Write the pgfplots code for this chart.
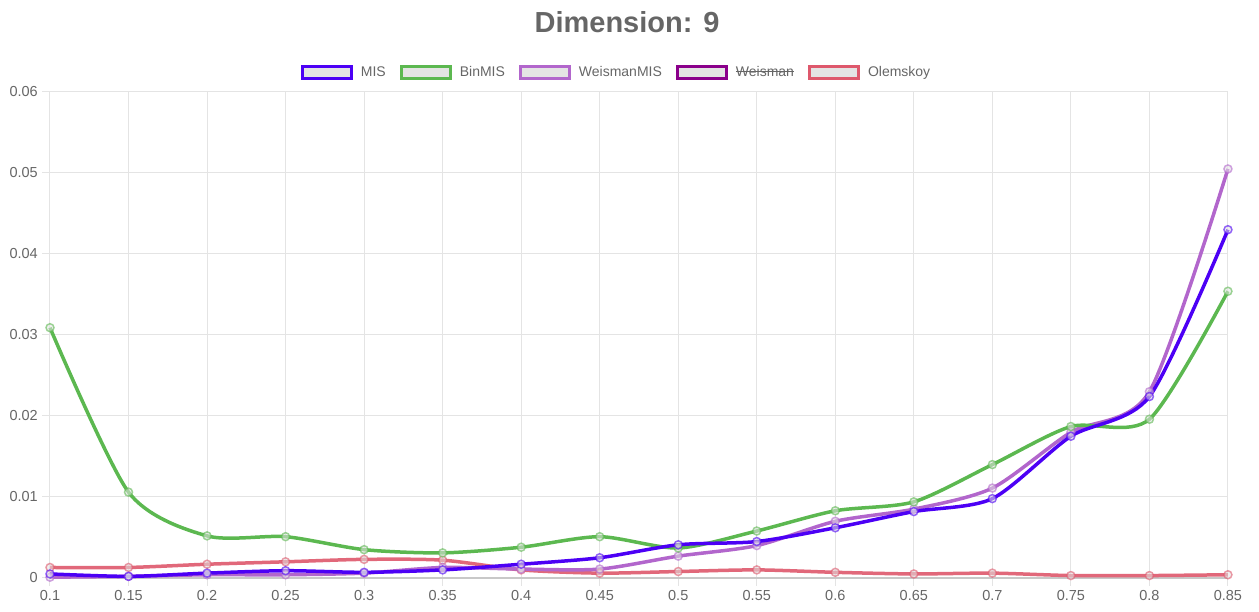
\documentclass[border=0pt]{standalone}
\usepackage{pgfplots}
\pgfplotsset{compat=1.18}
\usepackage{pgfplotstable}
\usepackage{fontspec}
\setmainfont{Liberation Sans}

\newsavebox\strikebox
\newcommand\strike[1]{\sbox\strikebox{#1}\rlap{\rule[0.32em]{\wd\strikebox}{1pt}}\usebox\strikebox}

\definecolor{txtgray}{RGB}{102,102,102}
\definecolor{gridgray}{RGB}{228,228,228}
\definecolor{zerogray}{RGB}{200,200,200}
\definecolor{boxfill}{RGB}{228,228,228}
\definecolor{cMIS}{RGB}{76,0,245}
\definecolor{cBin}{RGB}{92,184,80}
\definecolor{cWMIS}{RGB}{178,102,204}
\definecolor{cWeis}{RGB}{139,0,139}
\definecolor{cOle}{RGB}{222,88,108}

% error rate per threshold for each method
\pgfplotstableread{
x     mis    bin    wmis   ole
0.10  0.0005 0.0309 0.0001 0.0013
0.15  0.0002 0.0106 0.0002 0.0013
0.20  0.0006 0.0052 0.0004 0.0017
0.25  0.0009 0.0051 0.0004 0.0020
0.30  0.0007 0.0035 0.0006 0.0023
0.35  0.0010 0.0031 0.0013 0.0022
0.40  0.0017 0.0038 0.0011 0.0010
0.45  0.0025 0.0051 0.0011 0.0006
0.50  0.0041 0.0037 0.0027 0.0008
0.55  0.0045 0.0058 0.0040 0.0010
0.60  0.0062 0.0083 0.0070 0.0007
0.65  0.0082 0.0094 0.0085 0.0005
0.70  0.0098 0.0140 0.0111 0.0006
0.75  0.0175 0.0187 0.0180 0.0003
0.80  0.0224 0.0196 0.0230 0.0003
0.85  0.0430 0.0354 0.0505 0.0004
}\dimdata

\begin{document}
\begin{tikzpicture}
\path[use as bounding box] (-50pt,-34pt) rectangle (1209pt,578pt);
\begin{axis}[
  scale only axis,
  width=1178pt, height=486pt,
  xmin=0.1, xmax=0.85, ymin=0, ymax=0.06,
  scaled ticks=false,
  xtick={0.1,0.15,...,0.85},
  ytick={0,0.01,...,0.06},
  xticklabels={0.1,0.15,0.2,0.25,0.3,0.35,0.4,0.45,0.5,0.55,0.6,0.65,0.7,0.75,0.8,0.85},
  yticklabels={0,0.01,0.02,0.03,0.04,0.05,0.06},
  grid=major,
  major grid style={draw=gridgray, line width=1pt},
  axis line style={draw=gridgray, line width=1pt},
  tick align=outside,
  major tick length=8pt,
  tick style={draw=gridgray, line width=1pt},
  xtick pos=bottom, ytick pos=left,
  tick label style={font=\fontsize{14.5}{17}\selectfont, text=txtgray},
  yticklabel style={anchor=east, inner sep=0pt, xshift=-4pt},
  xticklabel style={anchor=north, inner sep=0pt, yshift=-4pt},
  clip=false,
  legend columns=5,
  legend style={at={(0.481,1.041)}, anchor=center, draw=none, fill=none,
    font=\fontsize{14}{17}\selectfont, text=txtgray,
    /tikz/every odd column/.append style={column sep=6pt},
    /tikz/every even column/.append style={column sep=12pt}},
  legend image code/.code={
    \draw[#1, line width=3pt, fill=boxfill] (0pt,-6pt) rectangle (49pt,6pt);},
  every axis plot/.append style={line width=3.5pt, smooth, tension=0.45},
  mk/.style={mark=*, mark size=4pt,
    mark options={draw=#1, fill=boxfill, line width=1.5pt, fill opacity=0.55, draw opacity=0.6}},
]
% legend entries, in the order the methods are listed
\addlegendimage{draw=cMIS}\addlegendentry{MIS}
\addlegendimage{draw=cBin}\addlegendentry{BinMIS}
\addlegendimage{draw=cWMIS}\addlegendentry{WeismanMIS}
\addlegendimage{draw=cWeis}\addlegendentry{\strike{Weisman}}
\addlegendimage{draw=cOle}\addlegendentry{Olemskoy}

% zero baseline
\draw[zerogray, line width=2pt] (axis cs:0.1,0) -- (axis cs:0.85,0);

\addplot[forget plot, draw=cOle, draw opacity=0.9, mk=cOle] table[x=x,y=ole] {\dimdata};
\addplot[forget plot, draw=cWMIS, mk=cWMIS] table[x=x,y=wmis] {\dimdata};
\addplot[forget plot, draw=cBin, mk=cBin] table[x=x,y=bin] {\dimdata};
\addplot[forget plot, draw=cMIS, mk=cMIS] table[x=x,y=mis] {\dimdata};
\end{axis}
\node[font=\fontsize{29}{34}\bfseries, text=txtgray] at (577pt,556pt) {Dimension: 9};
\end{tikzpicture}
\end{document}
